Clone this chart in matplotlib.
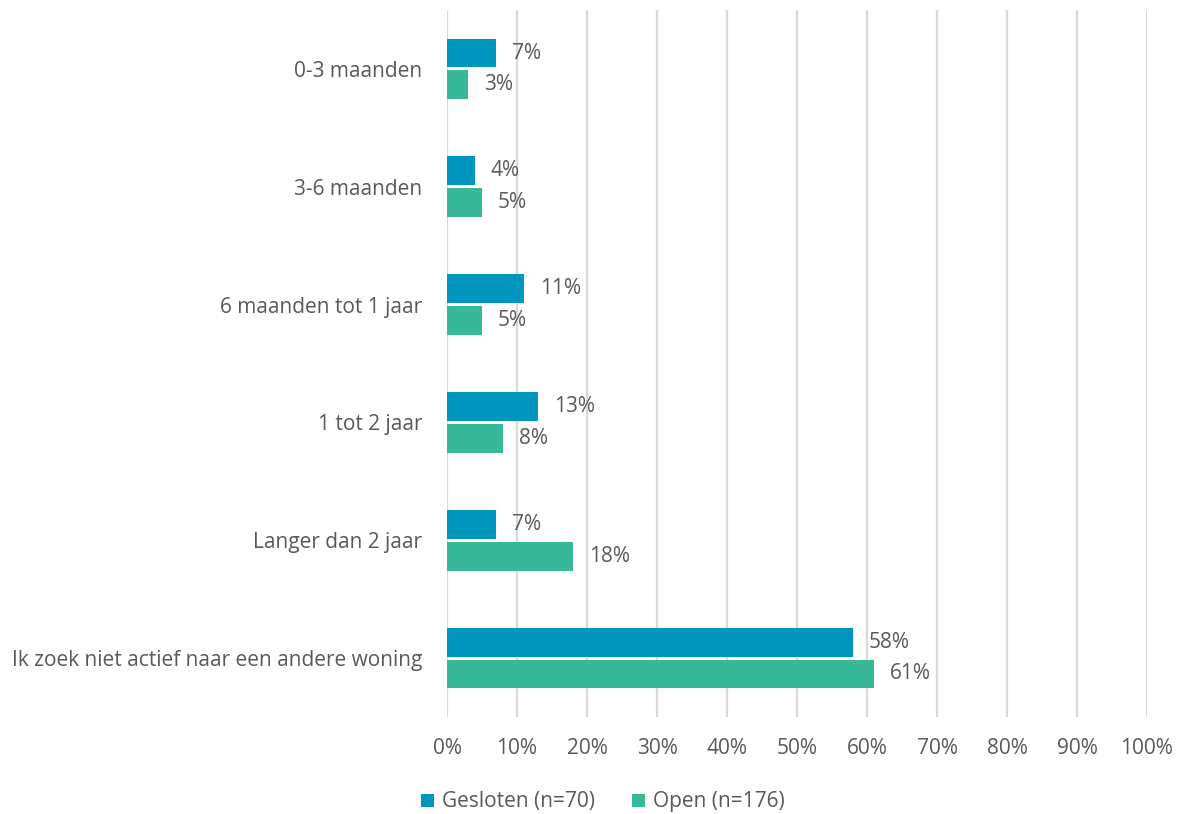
import matplotlib.pyplot as plt
import numpy as np

categories = ["0-3 maanden", "3-6 maanden", "6 maanden tot 1 jaar", "1 tot 2 jaar",
              "Langer dan 2 jaar", "Ik zoek niet actief naar een andere woning"]
gesloten = [7, 4, 11, 13, 7, 58]
open_ = [3, 5, 5, 8, 18, 61]
series_names = ["Gesloten (n=70)", "Open (n=176)"]
colors = ["#0096BE", "#38B899"]
text_color = "#595959"

plt.rcParams['font.family'] = ['Open Sans', 'DejaVu Sans']

fig = plt.figure(figsize=(11.8, 8.14), dpi=100)
ax = fig.add_axes([447 / 1180, 1 - 717 / 814, 700 / 1180, 707 / 814])

y = np.arange(len(categories))
h = 0.245
off = 0.135
b1 = ax.barh(y - off, gesloten, height=h, color=colors[0], label=series_names[0], zorder=3)
b2 = ax.barh(y + off, open_, height=h, color=colors[1], label=series_names[1], zorder=3)

for bars, vals in [(b1, gesloten), (b2, open_)]:
    for rect, v in zip(bars, vals):
        ax.annotate(f"{v}%", (rect.get_width(), rect.get_y() + rect.get_height() / 2),
                    xytext=(11.5, 0), textcoords="offset points", va="center", ha="left",
                    fontsize=15, color=text_color)

ax.set_xlim(0, 100)
ax.set_ylim(len(categories) - 0.5, -0.5)
ax.set_xticks(np.arange(0, 101, 10))
ax.set_xticklabels([f"{t}%" for t in range(0, 101, 10)])
ax.set_yticks(y)
ax.set_yticklabels(categories)
ax.tick_params(axis='both', length=0, labelsize=15, labelcolor=text_color)
ax.tick_params(axis='x', pad=15)
ax.tick_params(axis='y', pad=18)
ax.grid(axis='x', color="#D9D9D9", linewidth=1.6, zorder=0)
for s in ax.spines.values():
    s.set_visible(False)

ax.legend(loc="center", bbox_to_anchor=(603 / 1180, 1 - 802 / 814), bbox_transform=fig.transFigure,
          ncol=2, frameon=False, fontsize=15, labelcolor=text_color,
          handlelength=0.6, handleheight=0.6, handletextpad=0.4, columnspacing=1.8)

fig.savefig("out.png", dpi=100)
